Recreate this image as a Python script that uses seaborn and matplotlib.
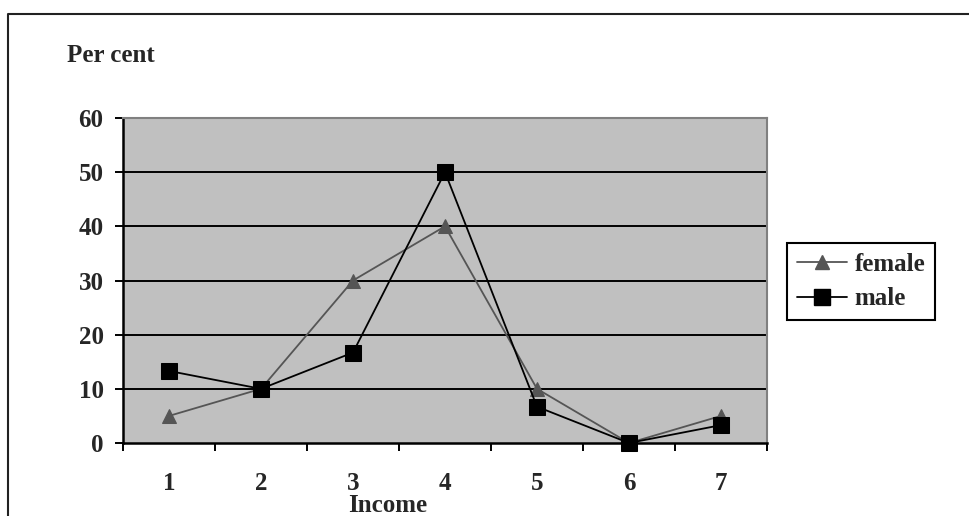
import matplotlib
matplotlib.use("Agg")
import matplotlib.pyplot as plt
from matplotlib.lines import Line2D
import numpy as np
import pandas as pd
import seaborn as sns

# Share of respondents by income group, per cent
income_groups = ["1", "2", "3", "4", "5", "6", "7"]
female = [5, 10, 30, 40, 10, 0, 5]
male = [13.3, 10, 16.7, 50, 6.7, 0, 3.3]
y_ticks = [0, 10, 20, 30, 40, 50, 60]

sns.set_theme(style="white")
plt.rcParams["font.family"] = ["Liberation Serif", "DejaVu Serif"]
plt.rcParams["font.weight"] = "bold"

W, H = 969, 516
FS = 18
fig = plt.figure(figsize=(W / 100, H / 100), dpi=100)
fig.patch.set_facecolor("white")

# plot area in pixel coordinates
left, right, top, bottom = 123, 767, 118, 443
ax = fig.add_axes([left / W, 1 - bottom / H, (right - left) / W, (bottom - top) / H])
ax.set_facecolor("#c0c0c0")

pos = np.arange(len(income_groups))
df = pd.DataFrame({
    "pos": np.concatenate([pos, pos]),
    "value": female + male,
    "sex": ["female"] * len(pos) + ["male"] * len(pos),
})

colors = {"female": "#555555", "male": "#000000"}
markers = {"female": "^", "male": "s"}
sizes = {"female": 10, "male": 11}

# gridlines behind the data
ax.hlines(y_ticks[1:-1], -0.5, len(pos) - 0.5, colors="black", linewidth=1.4, zorder=1)

for sex in ["female", "male"]:
    sns.lineplot(
        data=df[df["sex"] == sex], x="pos", y="value", ax=ax,
        color=colors[sex], marker=markers[sex], markersize=sizes[sex],
        markeredgecolor=colors[sex], markerfacecolor=colors[sex],
        linewidth=1.3, legend=False, zorder=3, clip_on=False,
    )

ax.set_xlim(-0.5, len(pos) - 0.5)
ax.set_ylim(0, 60)
ax.set_xlabel("")
ax.set_ylabel("")

# category labels at the centres, tick marks on the boundaries
ax.set_xticks(pos)
ax.set_xticklabels(income_groups, fontsize=FS, fontweight="bold")
ax.set_xticks(np.arange(-0.5, len(pos) + 0.5, 1), minor=True)
ax.tick_params(axis="x", which="major", length=0, pad=21)
ax.tick_params(axis="x", which="minor", length=6, width=1.4, direction="out",
               color="black", bottom=True)

ax.set_yticks(y_ticks)
ax.set_yticklabels([str(v) for v in y_ticks], fontsize=FS, fontweight="bold")
ax.tick_params(axis="y", length=6, width=1.4, direction="out", pad=8,
               color="black", left=True)

for side in ["left", "bottom"]:
    ax.spines[side].set_color("black")
    ax.spines[side].set_linewidth(1.8)
for side in ["top", "right"]:
    ax.spines[side].set_color("#808080")
    ax.spines[side].set_linewidth(1.5)

handles = [
    Line2D([], [], color=colors[s], marker=markers[s], markersize=sizes[s],
           markeredgecolor=colors[s], markerfacecolor=colors[s], linewidth=1.3)
    for s in ["female", "male"]
]
leg = fig.legend(
    handles, ["female", "male"], loc="upper left",
    bbox_to_anchor=(787 / W, 1 - 243 / H), frameon=True, fancybox=False,
    edgecolor="black", framealpha=1, handlelength=2.0, handletextpad=0.3,
    borderpad=0.4, labelspacing=0.45, prop={"size": FS, "weight": "bold"},
    borderaxespad=0,
)
leg.get_frame().set_linewidth(1.5)

fig.text(67 / W, 1 - 62 / H, "Per cent", fontsize=FS, fontweight="bold",
         ha="left", va="baseline")
fig.text(388 / W, 1 - 512 / H, "Income", fontsize=FS, fontweight="bold",
         ha="center", va="baseline")

# outer frame (top and left edges)
fig.add_artist(Line2D([8 / W, 8 / W, 1], [0, 1 - 14 / H, 1 - 14 / H],
                      transform=fig.transFigure, color="#222222", linewidth=1.5))

fig.savefig("out.png", dpi=100)
